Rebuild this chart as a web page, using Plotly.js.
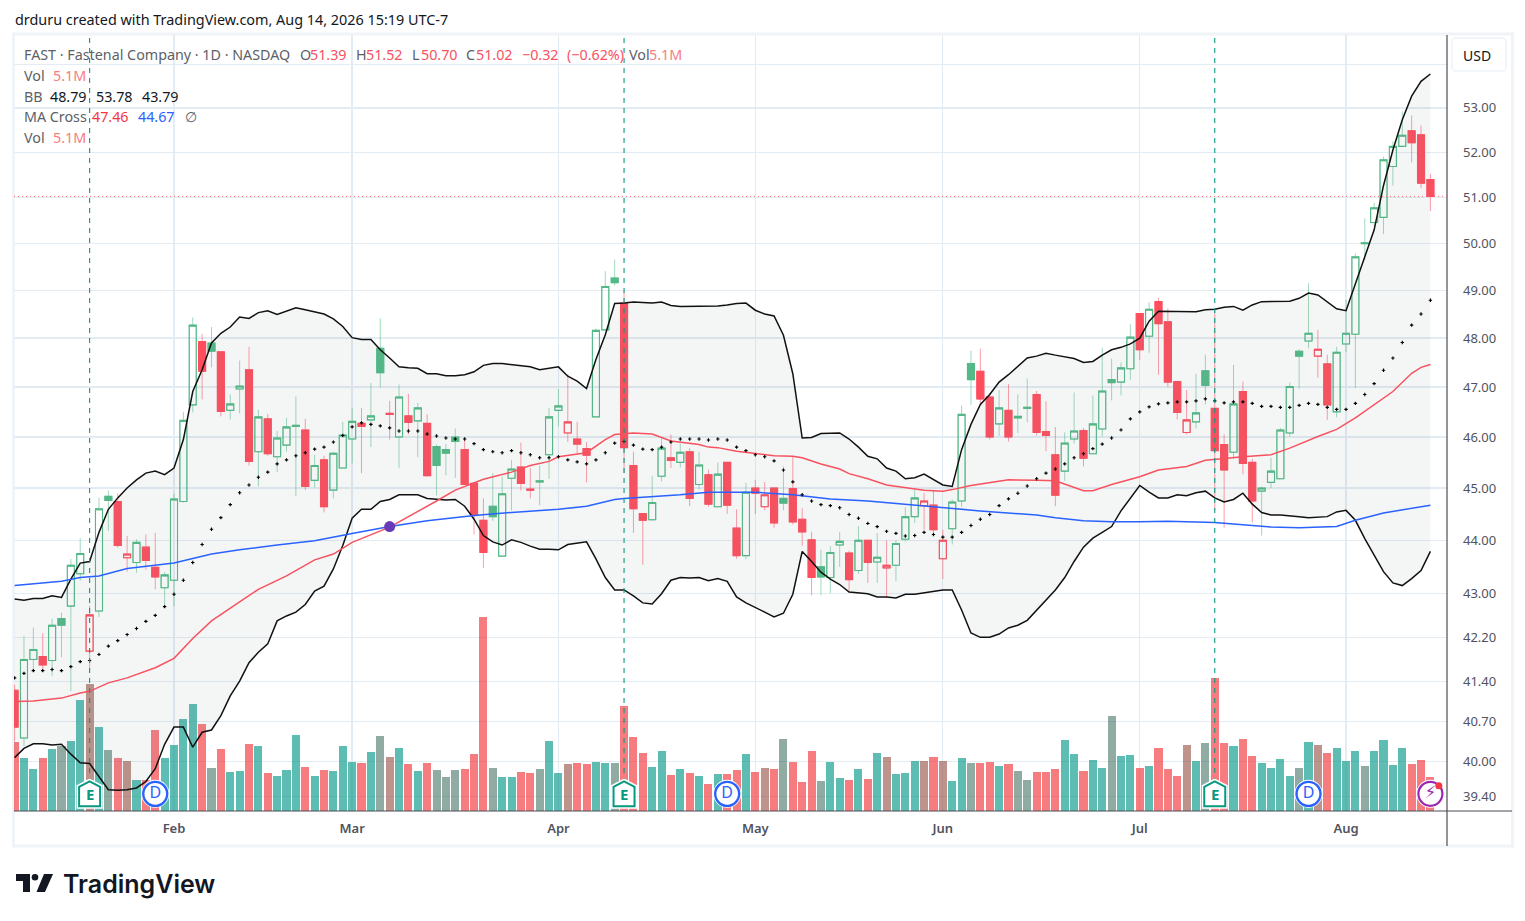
<!DOCTYPE html>
<html><head><meta charset="utf-8">
<script src="https://cdn.plot.ly/plotly-3.0.1.min.js"></script>
<style>html,body{margin:0;padding:0;background:#fff}#c{width:1525px;height:921px}</style>
</head><body><div id="c"></div>
<script>
const opens=[41.25,40.41,41.8,41.85,41.78,42.54,42.77,43.37,41.95,42.68,
44.84,44.74,43.67,43.58,43.87,43.49,43.11,43.25,44.74,46.64,
47.93,47.9,47.72,46.53,46.96,47.35,45.71,46.36,45.61,45.84,
46.21,46.14,45.15,45.55,44.96,45.39,45.96,46.27,46.34,47.79,
46.47,46,46.42,46.32,46.27,45.81,45.75,46,45.75,45.09,
44.38,44.65,43.7,45.19,45.41,44.98,45.14,45.65,46.53,46.08,
45.96,45.77,46.4,48.17,49.26,48.73,45.44,44.51,44.39,45.23,
45.59,45.5,45.71,45.07,45.26,44.64,45.5,44.23,43.71,45,
44.64,45,44.8,44.99,44.4,44.01,43.5,43.3,43.91,43.76,
43.43,44,43.59,43.48,43.53,44.02,44.45,44.66,44.67,43.65,
44.22,44.75,47.48,47.32,46.8,46.26,46.53,46.41,46.57,46.85,
46.11,45.65,45.33,45.96,46.13,45.67,46.16,47.15,47.1,47.37,
48.51,48.04,48.76,48.34,47.11,46.09,46.3,47.33,46.57,45.85,
45.7,46.91,45.5,44.94,45.11,45.18,46.08,47.73,47.94,47.63,
47.47,46.5,47.88,48.08,49.99,50.45,50.56,51.68,52.13,52.48,
52.39,51.39];
const highs=[41.35,42.22,42.38,42.27,42.54,42.65,43.65,44.04,42.78,44.81,
44.95,44.9,44.08,44.02,44.11,44.14,43.4,44.89,46.5,48.43,
48.09,48.23,47.72,46.85,47.54,47.82,46.54,46.46,46.12,46.38,
46.81,46.36,45.65,45.63,45.7,46.3,46.58,46.58,47.08,48.41,
46.72,47.05,46.86,46.68,46.45,45.85,45.86,46.17,45.95,45.1,
44.8,45.29,45.22,45.55,45.89,45.39,45.44,46.58,46.96,47.26,
46.3,45.9,48.2,49.4,49.65,48.97,45.71,44.51,45.24,46,
46.05,45.87,45.78,45.71,45.36,45.5,45.5,44.59,45.1,45.16,
45.12,45,45.42,45.62,44.61,44.16,43.82,43.89,44.16,43.8,
44.27,44,44.14,44,44,44.63,44.98,44.91,44.95,44.2,
44.78,46.63,47.74,47.78,46.88,46.94,47.06,46.85,47.17,46.92,
46.71,46.2,46.09,46.89,46.18,46.83,47.8,47.58,47.5,48.29,
48.51,48.75,48.84,48.62,47.11,46.94,47.27,47.66,48.58,46.05,
47.45,47.11,45.57,45.03,45.59,46.18,47.09,47.77,49.15,48.17,
47.66,47.82,48.8,49.78,50.54,50.88,51.9,52.24,52.92,52.83,
52.6,51.52];
const lows=[40.35,40.27,41.6,41.6,41.5,41.84,41.23,43.24,41.6,42.57,
44.18,43.86,43.41,43.39,43.45,43.08,42.77,42.77,44.72,46.49,
46.75,47.4,46.41,46.35,46.47,45.44,45.03,45.63,45.31,45.71,
44.84,44.96,45.01,44.53,44.8,45.39,45.48,45.29,45.8,46.99,
45.95,45.39,46.05,45.6,45.23,44.86,45.25,45.2,45.07,44.11,
43.48,44.37,43.7,44.57,44.95,44.8,44.67,45.18,46.21,45.9,
45.67,45.11,46.4,48.17,49.1,45.29,44.14,43.54,44.37,45.13,
45.39,45.4,44.65,44.97,44.64,44.64,44.5,43.65,43.64,44.5,
44.57,44.24,44.57,44.3,43.89,42.97,42.97,43.01,43.5,43.02,
43.37,43.2,43.2,42.92,43.23,43.98,44.33,44.2,44.15,43.27,
43.92,44.64,46.64,46.64,45.95,46.02,45.91,46.08,46.29,46.03,
45.72,44.65,45.14,45.87,45.42,45.67,46.01,46.73,46.83,47.15,
47.55,47.7,47.25,47,46.35,46.05,46.17,46.65,44.57,44.24,
45.57,45.27,44.34,44.09,45,45.18,46.01,46.97,47.79,47.19,
46.34,46.39,47.71,46.98,49.64,50.36,50.2,51.26,52.13,51.77,
51.2,50.7];
const closes=[40.6,41.8,41.98,41.7,42.42,42.42,43.53,43.75,42.61,44.6,
44.76,43.9,43.74,43.96,43.62,43.31,43.35,44.79,46.33,48.27,
47.32,47.73,46.51,46.66,47.02,45.52,46.4,45.67,45.98,46.2,
46.23,45.03,45.44,44.64,45.68,46.04,46.31,46.21,46.42,47.29,
46.45,46.8,46.29,46.58,45.24,45.44,45.68,45.91,45.07,44.48,
43.77,44.45,44.89,45.37,45.09,44.96,45.12,46.4,46.62,46.3,
45.86,45.64,48.16,49.08,49.16,45.79,44.6,44.38,44.72,45.78,
45.54,45.7,44.8,45.45,44.69,45.27,44.67,43.71,44.92,44.9,
44.87,44.33,44.71,44.35,44.16,43.3,43.31,43.77,43.98,43.26,
44,43.58,43.68,43.53,43.94,44.45,44.81,44.75,44.2,44,
44.73,46.45,47.15,46.76,46,46.58,46,46.38,46.59,46.09,
46.03,44.86,45.88,46.12,45.58,46.26,46.92,47.09,47.39,48.02,
47.76,48.6,48.3,47.1,46.49,46.34,46.48,47.03,45.73,45.35,
46.66,45.48,44.75,45,45.33,46.14,47.01,47.63,48.1,47.77,
46.64,47.71,48.1,49.71,50.01,50.77,51.83,52.13,52.38,52.21,
51.31,51.02];
const candleColor=("rggrggggrg"+"grrgrrgggg"+"rgrggrgrgg"+"grgrgggrgg"+"rgrgrgggrr"+"rgggrrgggr"+"rrgggrrrgg"+"rgrgrgrrgr"+"rrgrrrgggr"+"grgrgggrrr"+"gggrrgrggr"+"rrggrggggg"+"rgrrrrggrr"+"grrggggggr"+"rggggggggr"+"rr").split("");
const volumes=[10.3,7.95,6.3,7.95,9.3,9.8,10.5,16.65,19.05,12.6,
9.15,7.95,7.5,4.65,4.65,12.15,7.95,9.9,13.8,16.05,
13.05,6.45,9.3,5.85,6,10.05,9.75,5.7,5.25,6.15,
11.4,6.6,5.25,6.15,6,9.75,7.35,7.2,8.85,11.25,
8.1,9.45,7.05,6,7.2,6.15,5.1,6.15,6.3,8.55,
29.1,6.45,5.1,5.1,5.85,5.7,6.3,10.5,5.7,7.05,
7.2,7.05,7.35,7.2,7.2,15.75,11.1,8.7,6.6,9,
5.4,6.3,5.7,5.25,4.05,5.55,5.55,6.15,8.55,5.85,
6.45,6.3,10.8,7.35,4.35,9,4.5,7.35,4.95,4.65,
6.3,4.8,8.7,8.1,5.55,5.7,7.5,7.5,8.1,7.5,
4.5,7.95,7.2,7.2,7.35,6.75,7.05,6,4.65,5.85,
5.85,6.3,10.65,8.55,6,7.65,6.45,14.25,8.25,8.4,
6.45,6.75,9.45,6.3,5.25,9.9,7.5,10.2,19.95,10.2,
9.75,10.8,8.25,7.2,6.45,7.8,5.25,6.45,10.35,9.9,
8.7,9.45,7.5,9,6.75,9,10.65,6.9,9.45,7.05,
7.65,5.1];
const volumeCode=("rttrtgttbt"+"grbtrrtttt"+"rgrttrtrtt"+"trtrtttrtg"+"btrtrgggrr"+"rgttrrgttb"+"rrttgrrrtt"+"rtrtrtrrtr"+"brgrrrgttr"+"trtbtttbrb"+"ttgrrtrggr"+"rrttrttgtt"+"rtrrrbtgrr"+"trrttttgtb"+"rtttgttttr"+"rr").split("");
const bbUpper=[42.9,42.88,42.91,42.91,42.96,42.93,43.27,43.57,43.6,44.15,
44.59,44.81,45,45.16,45.29,45.33,45.26,45.39,45.95,46.91,
47.35,47.9,48.1,48.23,48.44,48.41,48.53,48.57,48.49,48.56,
48.63,48.59,48.54,48.5,48.4,48.24,48.01,47.97,47.97,47.76,
47.59,47.41,47.39,47.38,47.27,47.27,47.23,47.23,47.25,47.31,
47.44,47.48,47.48,47.46,47.44,47.41,47.35,47.38,47.41,47.22,
47.12,46.97,47.56,48.07,48.72,48.73,48.75,48.74,48.73,48.75,
48.68,48.66,48.66,48.66,48.66,48.67,48.69,48.72,48.73,48.58,
48.5,48.46,48.06,47.27,45.98,45.99,46.07,46.08,46.08,45.96,
45.8,45.62,45.57,45.39,45.33,45.18,45.2,45.27,45.16,45.06,
45.03,45.75,46.25,46.65,46.85,47.1,47.25,47.42,47.59,47.63,
47.69,47.65,47.62,47.58,47.5,47.52,47.65,47.76,47.81,47.88,
48,48.35,48.56,48.56,48.56,48.55,48.55,48.59,48.6,48.64,
48.66,48.58,48.69,48.76,48.76,48.76,48.77,48.83,48.94,48.9,
48.76,48.61,48.57,49.15,49.72,50.29,51.26,52.05,52.73,53.27,
53.61,53.78];
const bbLower=[40.07,40.23,40.31,40.31,40.29,40.3,40.13,39.98,39.97,39.75,
39.52,39.51,39.52,39.55,39.66,39.88,40.3,40.6,40.6,40.25,
40.51,40.55,40.8,41.15,41.41,41.74,41.93,42.08,42.5,42.59,
42.66,42.8,43.05,43.14,43.46,43.9,44.42,44.59,44.59,44.74,
44.78,44.87,44.87,44.87,44.8,44.79,44.77,44.78,44.65,44.4,
44.09,43.97,43.91,44.01,43.96,43.89,43.83,43.83,43.82,43.92,
43.94,43.97,43.65,43.3,43.07,43.07,42.96,42.83,42.81,43,
43.25,43.3,43.29,43.3,43.24,43.28,43.23,42.94,42.83,42.75,
42.66,42.57,42.64,42.99,43.79,43.6,43.4,43.27,43.17,43.03,
43.02,43,42.94,42.94,42.92,42.99,42.99,43.02,43.04,43.07,
43.07,42.7,42.28,42.2,42.2,42.26,42.37,42.42,42.51,42.7,
42.89,43.07,43.3,43.6,43.87,44.04,44.15,44.26,44.56,44.81,
45.05,44.92,44.81,44.81,44.87,44.85,44.91,44.94,44.81,44.73,
44.78,44.9,44.69,44.53,44.48,44.48,44.47,44.45,44.43,44.44,
44.45,44.54,44.57,44.38,44.03,43.72,43.41,43.2,43.15,43.28,
43.43,43.79];
const bbBasis=[41.47,41.55,41.6,41.6,41.62,41.6,41.67,41.76,41.78,41.89,
42.04,42.14,42.25,42.36,42.49,42.6,42.76,42.99,43.25,43.58,
43.92,44.21,44.43,44.68,44.91,45.06,45.21,45.31,45.47,45.55,
45.63,45.69,45.76,45.8,45.9,46.03,46.2,46.28,46.25,46.22,
46.18,46.12,46.12,46.12,46.06,46.02,45.98,45.96,45.96,45.87,
45.75,45.71,45.69,45.73,45.69,45.65,45.59,45.59,45.61,45.55,
45.51,45.47,45.55,45.69,45.88,45.91,45.84,45.76,45.75,45.8,
45.9,45.96,45.96,45.96,45.94,45.96,45.94,45.8,45.73,45.65,
45.61,45.53,45.35,45.12,44.87,44.75,44.68,44.66,44.62,44.49,
44.42,44.32,44.26,44.17,44.13,44.08,44.09,44.15,44.11,44.06,
44.06,44.15,44.28,44.4,44.49,44.66,44.79,44.9,45.04,45.18,
45.29,45.37,45.47,45.59,45.67,45.77,45.86,45.98,46.14,46.36,
46.5,46.6,46.66,46.68,46.7,46.7,46.72,46.76,46.72,46.68,
46.7,46.7,46.67,46.61,46.61,46.59,46.59,46.63,46.67,46.65,
46.59,46.55,46.55,46.67,46.85,47.07,47.34,47.59,47.91,48.27,
48.5,48.79];
const ma50Bars=[0,2,5,7,8,10,12,15,17,19,21,23,24,26,29,32,34,36,40,45,47,50,53,55,57,58,60,61,63,64,66,68,70,71,73,74,75,77,79,81,83,84,86,88,89,91,93,95,97,99,100,102,104,106,109,111,114,115,117,120,122,125,127,128,131,134,136,139,141,143,145,147,149,150,151];
const ma50=[41.05,41.06,41.11,41.2,41.23,41.38,41.47,41.65,41.82,42.18,42.5,42.74,42.85,43.08,43.33,43.63,43.74,43.96,44.25,44.75,44.96,45.17,45.31,45.44,45.52,45.61,45.66,45.69,45.95,46.05,46.08,46.06,45.92,45.9,45.85,45.8,45.79,45.72,45.67,45.63,45.62,45.59,45.47,45.37,45.28,45.18,45.06,45.01,44.96,44.94,44.97,45.05,45.1,45.16,45.15,45.14,44.95,44.95,45.07,45.22,45.35,45.42,45.54,45.56,45.61,45.65,45.78,46.01,46.15,46.38,46.64,46.91,47.28,47.4,47.46];
const ma200Bars=[0,2,5,7,9,12,15,17,21,24,28,32,36,40,44,49,53,58,61,64,65,71,74,77,79,83,87,91,96,99,103,109,111,114,117,120,123,128,131,134,137,141,143,146,151];
const ma200=[43.15,43.18,43.23,43.3,43.33,43.47,43.53,43.57,43.74,43.82,43.91,43.99,44.13,44.26,44.37,44.47,44.53,44.59,44.65,44.78,44.8,44.87,44.92,44.92,44.92,44.87,44.79,44.75,44.67,44.61,44.56,44.48,44.43,44.37,44.35,44.35,44.36,44.34,44.29,44.25,44.24,44.26,44.38,44.52,44.67];
const crossBar=[40], crossPrice=[44.26];
const earningsBars=[8,65,128], dividendBars=[15,76,138], flashBar=[151];
const monthBars=[17,36,58,79,99,120,142];
const monthLabels=["Feb","Mar","Apr","May","Jun","Jul","Aug"];
const priceTicks=[54,53,52,51,50,49,48,47,46,45,44,43,42.2,41.4,40.7,40,39.4];
const priceLabels=["","53.00","52.00","51.00","50.00","49.00","48.00","47.00","46.00","45.00","44.00","43.00","42.20","41.40","40.70","40.00","39.40"];
const lastClose=51.02, iconLevel=39.45;

const FONT='"Noto Sans", sans-serif';
const GREEN='#53b987', RED='#ff4d5e', GREENW='rgba(83,185,135,0.55)', REDW='rgba(255,77,94,0.55)';
const GRID='#e3ebf3';
const px=x=>(x-14)/1433, py=y=>(811-y)/776;
const bars=opens.map((_,i)=>i);
const pick=(arr,c)=>bars.filter(i=>candleColor[i]===c).map(i=>arr[i]);
const idx=c=>bars.filter(i=>candleColor[i]===c);
const volCol={t:'rgba(8,153,139,0.65)',r:'rgba(242,54,59,0.65)',g:'rgba(75,120,105,0.62)',b:'rgba(150,80,70,0.62)'};

function wickTrace(c,col){return {type:'candlestick',x:idx(c),open:pick(opens,c),high:pick(highs,c),low:pick(lows,c),close:pick(closes,c),
  yaxis:'y2',whiskerwidth:0,hoverinfo:'skip',showlegend:false,
  increasing:{line:{color:col,width:1},fillcolor:'rgba(0,0,0,0)'},decreasing:{line:{color:col,width:1},fillcolor:'rgba(0,0,0,0)'}};}
function bodyTrace(c,col){const o=pick(opens,c),cl=pick(closes,c);
  return {type:'candlestick',x:idx(c),open:o,close:cl,high:o.map((v,i)=>Math.max(v,cl[i])),low:o.map((v,i)=>Math.min(v,cl[i])),
  yaxis:'y2',whiskerwidth:0,hoverinfo:'skip',showlegend:false,
  increasing:{line:{color:col,width:1.1},fillcolor:'rgba(0,0,0,0)'},decreasing:{line:{color:col,width:1.1},fillcolor:col}};}

const traces=[
 {type:'bar',x:bars,y:volumes,yaxis:'y',width:0.86,marker:{color:volumeCode.map(c=>volCol[c]),line:{width:0}},hoverinfo:'skip',showlegend:false},
 wickTrace('g',GREENW),wickTrace('r',REDW),bodyTrace('g',GREEN),bodyTrace('r',RED),
 {type:'scatter',mode:'lines',x:bars,y:bbLower,yaxis:'y2',line:{color:'#111',width:1.5},hoverinfo:'skip',showlegend:false},
 {type:'scatter',mode:'lines',x:bars,y:bbUpper,yaxis:'y2',line:{color:'#111',width:1.5},fill:'tonexty',fillcolor:'rgba(110,130,130,0.075)',hoverinfo:'skip',showlegend:false},
 {type:'scatter',mode:'lines',x:ma200Bars,y:ma200,yaxis:'y2',line:{color:'#2962ff',width:1.5},hoverinfo:'skip',showlegend:false},
 {type:'scatter',mode:'lines',x:ma50Bars,y:ma50,yaxis:'y2',line:{color:'#f7525f',width:1.5},hoverinfo:'skip',showlegend:false},
 {type:'scatter',mode:'markers',x:bars,y:bbBasis,yaxis:'y2',marker:{symbol:'cross',size:2.8,color:'#000',line:{width:0}},hoverinfo:'skip',showlegend:false},
 {type:'scatter',mode:'markers',x:crossBar,y:crossPrice,yaxis:'y2',marker:{size:11,color:'#673ab7'},hoverinfo:'skip',showlegend:false},
 {type:'scatter',mode:'markers',x:dividendBars.concat(flashBar),y:dividendBars.concat(flashBar).map(()=>iconLevel),yaxis:'y2',marker:{symbol:'circle',size:28,color:'#fff'},hoverinfo:'skip',showlegend:false},
 {type:'scatter',mode:'markers+text',x:dividendBars,y:dividendBars.map(()=>iconLevel),yaxis:'y2',text:dividendBars.map(()=>'D'),textposition:'middle center',
  textfont:{family:FONT,size:16,color:'#2962ff'},marker:{symbol:'circle',size:24,color:'#fff',line:{color:'#2962ff',width:2.4}},hoverinfo:'skip',showlegend:false},
 {type:'scatter',mode:'markers+text',x:flashBar,y:flashBar.map(()=>iconLevel),yaxis:'y2',text:['⚡'],textposition:'middle center',
  textfont:{family:'"DejaVu Sans"',size:17,color:'#9c27b0'},marker:{symbol:'circle',size:24,color:'#fff',line:{color:'#9c27b0',width:2.2}},hoverinfo:'skip',showlegend:false},
 {type:'scatter',mode:'markers',x:[flashBar[0]+0.9],y:[iconLevel*1.0035],yaxis:'y2',marker:{size:7,color:'#f23645'},hoverinfo:'skip',showlegend:false}
];

function label(x,y,text,color,size,extra){return Object.assign({xref:'paper',yref:'paper',x:px(x),y:py(y),xanchor:'left',yanchor:'middle',text:text,showarrow:false,
  font:{family:FONT,size:size||14.3,color:color},borderpad:0},extra||{});}
const GR='#5c5f68', VR='#f7525f', VOLR='#f77c80';
const annotations=[
 label(14,19,'drduru created with TradingView.com, Aug 14, 2026 15:19 UTC-7','#131722',14.4),
 label(23,54,'FAST · Fastenal Company · 1D · NASDAQ',GR),
 label(299,54,'O',GR),label(309,54,'51.39',VR),
 label(355,54,'H',GR),label(365,54,'51.52',VR),
 label(411,54,'L',GR),label(420,54,'50.70',VR),
 label(465,54,'C',GR),label(475,54,'51.02',VR),
 label(521,54,'−0.32',VR),label(566,54,'(−0.62%)',VR),
 label(628,54,'Vol',GR),label(648,54,'5.1M',VOLR),
 label(23,75,'Vol',GR),label(52,75,'5.1M',VOLR),
 label(23,96,'BB',GR),label(49,96,'48.79','#131722'),label(95,96,'53.78','#131722'),label(141,96,'43.79','#131722'),
 label(23,117,'MA Cross',GR),label(91,117,'47.46','#f23645'),label(137,117,'44.67','#2962ff'),label(184,117,'∅',GR),
 label(23,138,'Vol',GR),label(52,138,'5.1M',VOLR),
 label(1477,55,'USD','#131722',14,{xanchor:'center'}),
 label(62,884,'TradingView','#131722',25,{font:{family:'Inter, sans-serif',size:25,color:'#131722',weight:600}})
].concat(earningsBars.map(b=>({xref:'x',yref:'y2',x:b,y:Math.log10(iconLevel),text:'E',showarrow:false,font:{family:FONT,size:15,color:'#089981',weight:700},xanchor:'center',yanchor:'middle',borderpad:0})));

const house='M -10.5 -12.5 L 10.5 -12.5 L 10.5 7 L 0 12.5 L -10.5 7 Z';
const shapes=[
 {type:'rect',xref:'paper',yref:'paper',x0:px(13.5),x1:px(1512.5),y0:py(34),y1:py(846),line:{color:'#f0f3f7',width:3},layer:'below'},
 {type:'line',xref:'paper',yref:'paper',x0:px(1447),x1:px(1447),y0:py(35),y1:py(846),line:{color:'#4a4d55',width:1.2}},
 {type:'line',xref:'paper',yref:'paper',x0:px(14),x1:px(1512),y0:py(811),y1:py(811),line:{color:'#4a4d55',width:1.2}},
 {type:'line',xref:'paper',yref:'y2',x0:0,x1:1,y0:lastClose,y1:lastClose,line:{color:'rgba(247,82,95,0.85)',width:1,dash:'1px 3px'}},
 {type:'path',xref:'paper',yref:'paper',path:`M ${px(1456)} ${py(38)} L ${px(1502)} ${py(38)} Q ${px(1506)} ${py(38)} ${px(1506)} ${py(42)} L ${px(1506)} ${py(67)} Q ${px(1506)} ${py(71)} ${px(1502)} ${py(71)} L ${px(1456)} ${py(71)} Q ${px(1452)} ${py(71)} ${px(1452)} ${py(67)} L ${px(1452)} ${py(42)} Q ${px(1452)} ${py(38)} ${px(1456)} ${py(38)} Z`,line:{color:'#f0f3f7',width:1.5},fillcolor:'#fff'},
 {type:'path',xref:'paper',yref:'paper',path:`M ${px(16)} ${py(874)} L ${px(30)} ${py(874)} L ${px(30)} ${py(892)} L ${px(23)} ${py(892)} L ${px(23)} ${py(881)} L ${px(16)} ${py(881)} Z`,line:{width:0},fillcolor:'#131722'},
 {type:'circle',xref:'paper',yref:'paper',x0:px(31.7),x1:px(38.3),y0:py(874),y1:py(880.6),line:{width:0},fillcolor:'#131722'},
 {type:'path',xref:'paper',yref:'paper',path:`M ${px(44)} ${py(874)} L ${px(53)} ${py(874)} L ${px(45)} ${py(892)} L ${px(36.5)} ${py(892)} Z`,line:{width:0},fillcolor:'#131722'}
];
earningsBars.forEach(b=>{
 shapes.push({type:'line',xref:'x',yref:'paper',x0:b,x1:b,y0:py(783),y1:1,line:{color:'#089981',width:1.1,dash:'5px 5px'}});
 shapes.push({type:'path',xref:'x',yref:'y2',xsizemode:'pixel',ysizemode:'pixel',xanchor:b,yanchor:iconLevel,path:house,line:{color:'#fff',width:5},fillcolor:'#fff'});
 shapes.push({type:'path',xref:'x',yref:'y2',xsizemode:'pixel',ysizemode:'pixel',xanchor:b,yanchor:iconLevel,path:house,line:{color:'#089981',width:2},fillcolor:'#fff'});
});

const layout={
 width:1525,height:921,margin:{l:14,r:78,t:35,b:110,pad:0},paper_bgcolor:'#fff',plot_bgcolor:'#fff',
 showlegend:false,boxmode:'overlay',boxgap:0.25,boxgroupgap:0,bargap:0,
 xaxis:{type:'linear',range:[-0.064,152.77],tickmode:'array',tickvals:monthBars,ticktext:monthLabels,showgrid:true,gridcolor:GRID,gridwidth:1.3,zeroline:false,showline:false,ticks:'',
   tickfont:{family:FONT,size:13,color:'#50535e',weight:600},ticklabelstandoff:8,rangeslider:{visible:false},fixedrange:true},
 yaxis:{range:[0,116.4],visible:false,showgrid:false,zeroline:false,fixedrange:true},
 yaxis2:{type:'log',overlaying:'y',side:'right',anchor:'x',range:[Math.log10(39.16),Math.log10(54.69)],tickmode:'array',tickvals:priceTicks,ticktext:priceLabels,
   showgrid:true,gridcolor:GRID,gridwidth:1.3,zeroline:false,showline:false,ticks:'',tickfont:{family:FONT,size:13,color:'#50535e'},ticklabelstandoff:15,fixedrange:true},
 shapes:shapes,annotations:annotations,hovermode:false,dragmode:false
};
Plotly.newPlot('c',traces,layout,{displayModeBar:false,staticPlot:true});
</script></body></html>
